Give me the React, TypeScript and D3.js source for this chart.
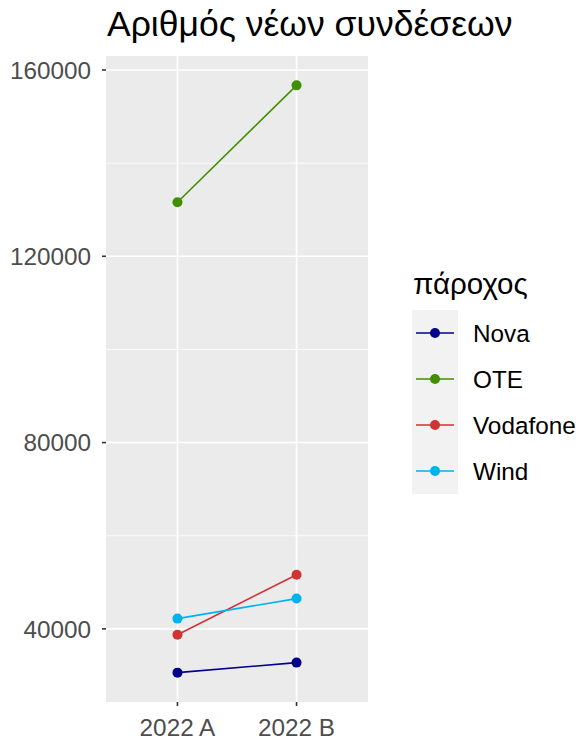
import React from "react";
import * as d3 from "d3";

const periods = ["2022 A", "2022 B"];
const providers = ["Nova", "OTE", "Vodafone", "Wind"];
const colors = ["#00008B", "#3F8F00", "#D03333", "#00B2EE"];
const novaValues = [30600, 32750];
const oteValues = [131600, 156700];
const vodafoneValues = [38750, 51600];
const windValues = [42200, 46500];
const yTicks = [40000, 80000, 120000, 160000];
const yMinorTicks = [60000, 100000, 140000];

const seriesValues = [novaValues, oteValues, vodafoneValues, windValues];

export default function App() {
  const W = 581, H = 744;
  const pL = 106, pR = 368, pT = 56, pB = 702;
  const all = seriesValues.flat();
  const mn = d3.min(all)!, mx = d3.max(all)!;
  const ex = (mx - mn) * 0.05;
  const y = d3.scaleLinear().domain([mn - ex, mx + ex]).range([pB, pT]);
  const x = d3.scalePoint().domain(periods).range([pL, pR]).padding(0.6);
  const line = d3.line<[string, number]>().x(d => x(d[0])!).y(d => y(d[1]));
  const font = "Liberation Sans, Arial, sans-serif";
  const legX = 412, legY = 310, keyH = 46;
  const axFs = 24.3;
  return (
    <svg width={W} height={H} style={{ position: "absolute", left: 0, top: 0 }} fontFamily={font}>
      <rect x={0} y={0} width={W} height={H} fill="#fff" />
      <text x={107} y={36} fontSize={35.5} fill="#000">Αριθμός νέων συνδέσεων</text>
      <rect x={pL} y={pT} width={pR - pL} height={pB - pT} fill="#EBEBEB" />
      {yMinorTicks.map(t => (
        <line key={"m" + t} x1={pL} x2={pR} y1={y(t)} y2={y(t)} stroke="#fff" strokeWidth={0.8} />
      ))}
      {yTicks.map(t => (
        <line key={"g" + t} x1={pL} x2={pR} y1={y(t)} y2={y(t)} stroke="#fff" strokeWidth={1.6} />
      ))}
      {periods.map(p => (
        <line key={"v" + p} x1={x(p)} x2={x(p)} y1={pT} y2={pB} stroke="#fff" strokeWidth={1.6} />
      ))}
      {yTicks.map(t => (
        <g key={"t" + t}>
          <line x1={pL - 4} x2={pL} y1={y(t)} y2={y(t)} stroke="#333" strokeWidth={1.6} />
          <text x={pL - 15} y={y(t)} dy="0.36em" textAnchor="end" fontSize={axFs} fill="#4D4D4D">{t}</text>
        </g>
      ))}
      {periods.map(p => (
        <g key={"xt" + p}>
          <line x1={x(p)} x2={x(p)} y1={pB} y2={pB + 4} stroke="#333" strokeWidth={1.6} />
          <text x={x(p)} y={pB + 34} textAnchor="middle" fontSize={axFs} fill="#4D4D4D">{p}</text>
        </g>
      ))}
      {seriesValues.map((vals, i) => {
        const pts = periods.map((p, j) => [p, vals[j]] as [string, number]);
        return (
          <g key={providers[i]}>
            <path d={line(pts)!} fill="none" stroke={colors[i]} strokeWidth={1.6} />
            {pts.map((d, j) => (
              <circle key={j} cx={x(d[0])} cy={y(d[1])} r={5} fill={colors[i]} />
            ))}
          </g>
        );
      })}
      <text x={413} y={294} fontSize={29.5} fill="#000">πάροχος</text>
      <rect x={legX} y={legY} width={46} height={keyH * providers.length} fill="#F2F2F2" />
      {providers.map((p, i) => {
        const cy = legY + keyH * i + keyH / 2;
        return (
          <g key={"l" + p}>
            <line x1={legX + 4} x2={legX + 42} y1={cy} y2={cy} stroke={colors[i]} strokeWidth={1.6} />
            <circle cx={legX + 23} cy={cy} r={5} fill={colors[i]} />
            <text x={473} y={cy} dy="0.36em" fontSize={axFs} fill="#000">{p}</text>
          </g>
        );
      })}
    </svg>
  );
}
